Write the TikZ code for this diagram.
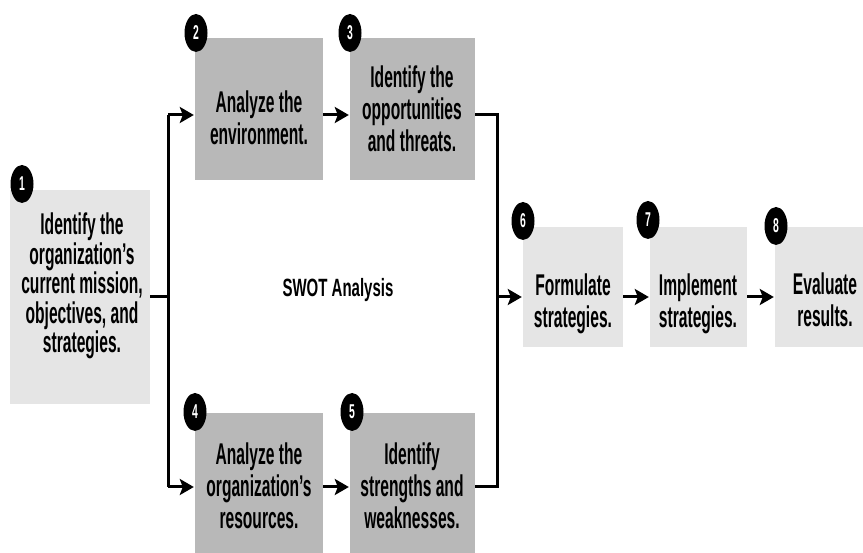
\documentclass[tikz,border=0pt]{standalone}
\usepackage{fontspec}
\setmainfont{Liberation Sans}[FakeStretch=0.52]
\newfontfamily\swotfont{Liberation Sans}[FakeStretch=0.6]
\usetikzlibrary{positioning, arrows.meta, shapes.geometric}

\tikzset{
  panel/.style={rectangle, fill=black!10, inner sep=0pt},
  darkpanel/.style={panel, fill=black!28},
  steptext/.style={align=center, inner sep=0pt, font=\fontsize{30}{32}\selectfont\bfseries},
  num/.style={ellipse, fill=black, text=white, inner sep=0pt, minimum width=23pt, minimum height=38pt, font=\fontsize{20}{20}\selectfont\bfseries},
  link/.style={line width=3pt},
  flow/.style={line width=3pt, -{Stealth[length=14pt,width=16pt,inset=3pt]}, shorten >=1pt}
}

\begin{document}
\begin{tikzpicture}[x=1pt,y=-1pt]
        \useasboundingbox (0,0) rectangle (863,553);
        % boxes
        \node[panel, minimum width=140pt, minimum height=214pt] (b1) at (80,297) {};
        \node[darkpanel, minimum width=128pt, minimum height=142pt] (b2) at (259,109) {};
        \node[darkpanel, minimum width=125pt, minimum height=142pt] (b3) at (412.5,109) {};
        \node[darkpanel, minimum width=128pt, minimum height=142pt] (b4) at (259,484) {};
        \node[darkpanel, minimum width=125pt, minimum height=142pt] (b5) at (412.5,484) {};
        \node[panel, minimum width=100pt, minimum height=120pt] (b6) at (573,287) {};
        \node[panel, minimum width=97pt, minimum height=120pt] (b7) at (698.5,287) {};
        \node[panel, minimum width=95pt, minimum height=120pt] (b8) at (822.5,287) {};
        % texts
        \node[steptext, font=\fontsize{30}{29.5}\selectfont\bfseries] (t1) at (82,286) {Identify the\\organization's\\current mission,\\objectives, and\\strategies.};
        \node[steptext] (t2) at (259,118) {Analyze the\\environment.};
        \node[steptext] (t3) at (412,109) {Identify the\\opportunities\\and threats.};
        \node[steptext] (t4) at (259,486) {Analyze the\\organization's\\resources.};
        \node[steptext] (t5) at (412,486) {Identify\\strengths and\\weaknesses.};
        \node[steptext] (t6) at (573,304) {Formulate\\strategies.};
        \node[steptext] (t7) at (698,304) {Implement\\strategies.};
        \node[steptext] (t8) at (825,300) {Evaluate\\results.};
        \node[font=\swotfont\fontsize{25}{25}\selectfont\bfseries] (swot) at (338,290) {SWOT Analysis};
        % numbers
        \node[num] (n1) at (22,184) {1};
        \node[num] (n2) at (196,33) {2};
        \node[num] (n3) at (350,33) {3};
        \node[num] (n4) at (195,412) {4};
        \node[num] (n5) at (352,412) {5};
        \node[num] (n6) at (523,221) {6};
        \node[num] (n7) at (648,220) {7};
        \node[num] (n8) at (776,226) {8};
        % connectors
        \coordinate (split) at (168,297);
        \coordinate (upl) at (168,115);
        \coordinate (dnl) at (168,487);
        \coordinate (upr) at (497,115);
        \coordinate (dnr) at (497,487);
        \coordinate (join) at (497,297);
        \draw[link] (b1) -- (split);
        \draw[link] (upl) -- (dnl);
        \draw[flow] (upl) -- (upl -| b2.west);
        \draw[flow] (dnl) -- (dnl -| b4.west);
        \draw[flow] (upl -| b2.east) -- (upl -| b3.west);
        \draw[flow] (dnl -| b4.east) -- (dnl -| b5.west);
        \draw[link] (upl -| b3.east) -- (upr) -- (dnr) -- (dnl -| b5.east);
        \draw[flow] (join) -- (join -| b6.west);
        \draw[flow] (join -| b6.east) -- (join -| b7.west);
        \draw[flow] (join -| b7.east) -- (join -| b8.west);
\end{tikzpicture}
\end{document}
